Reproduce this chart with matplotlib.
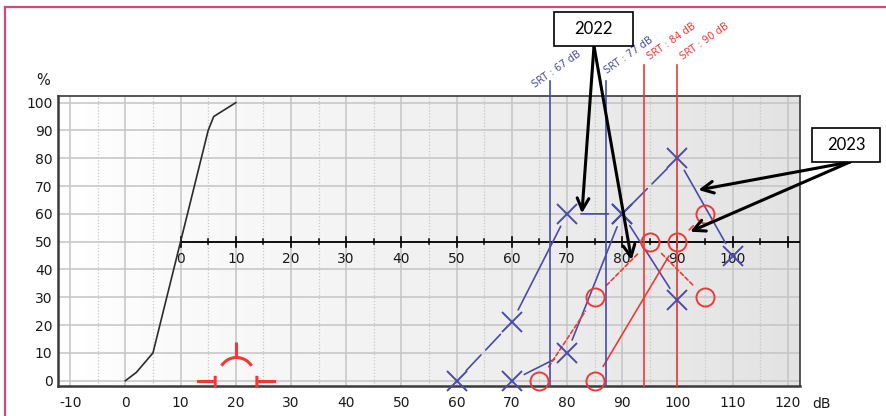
import numpy as np
import matplotlib
matplotlib.use("Agg")
import matplotlib.pyplot as plt
from matplotlib.path import Path
from matplotlib.patches import Rectangle
from matplotlib.lines import Line2D

plt.rcParams["axes.unicode_minus"] = False

# ---------------------------------------------------------------
# Datos (eje dB inferior; la escala superior va desplazada 10 dB)
# ---------------------------------------------------------------
norm_db = [0, 2, 5, 10, 15, 16, 20]
norm_pct = [0, 3, 10, 50, 90, 95, 100]

# 2022 - cruces azules
a22_db = [60, 70, 80, 90, 100]
a22_pct = [0, 21, 60, 60, 29]
a22_ls = ["dash", "solid", "solid", "solid"]

b22_db = [70, 80, 90, 100, 110]
b22_pct = [0, 10, 60, 80, 45]
b22_ls = ["solid", "solid", "dash", "solid"]

# 2023 - círculos rojos
a23_db = [75, 85, 95, 105]
a23_pct = [0, 30, 50, 30]
a23_ls = ["dot", "dot", "dot"]

b23_db = [85, 100, 105]
b23_pct = [0, 50, 60]
b23_ls = ["solid", "solid"]

srt_2022 = [67, 77]
srt_2023 = [84, 90]
scale_shift = 10

symbol_db = 20
symbol_pct = 0

x_ticks = list(range(-10, 121, 10))
y_ticks = list(range(0, 101, 10))
top_labels = list(range(0, 101, 10))

BLUE = "#4a4ca6"
RED = "#ec3b36"
STYLES = {"solid": "-", "dash": (0, (13, 4)), "dot": (0, (2.5, 1.5))}

W, H = 886, 416


def figfrac(px, py):
    return px / W, 1 - py / H


fig = plt.figure(figsize=(W / 100, H / 100), dpi=100)
ax = fig.add_axes([58 / W, 30 / H, 742 / W, 290.3 / H])
ax.set_xlim(-12.2, 122.2)
ax.set_ylim(-1.9, 102.5)

# fondo degradado blanco -> gris
grad = np.linspace(0, 1, 256).reshape(1, -1)
ax.imshow(grad, extent=(-12.2, 122.2, -1.9, 102.5), aspect="auto",
          cmap=matplotlib.colors.LinearSegmentedColormap.from_list("g", ["#ffffff", "#e3e3e3"]),
          zorder=0, interpolation="bicubic")

# rejilla
for x in x_ticks:
    ax.axvline(x, color="#c4c4c4", lw=1.1, zorder=1)
for x in range(-5, 120, 10):
    ax.axvline(x, color="#c8c8c8", lw=0.9, ls=(0, (1, 1.5)), zorder=1)
for y in y_ticks:
    ax.axhline(y, color="#c4c4c4", lw=1.1, zorder=1)

ax.set_xticks(x_ticks)
ax.set_yticks(y_ticks)
ax.tick_params(axis="both", length=0, labelsize=10, colors="#1a1a1a")
ax.tick_params(axis="x", pad=7)
ax.tick_params(axis="y", pad=4)
for s in ax.spines.values():
    s.set_color("#3a3a3a")
    s.set_linewidth(1.2)
ax.spines["left"].set_linewidth(1.8)
ax.spines["bottom"].set_linewidth(1.8)

ax.text(-0.02, 1.054, "%", transform=ax.transAxes, ha="center", va="center",
        fontsize=10.5, color="#1a1a1a")
ax.text(1.016, -0.037, "dB", transform=ax.transAxes, ha="left", va="top",
        fontsize=10, color="#1a1a1a")

# eje desplazado a 50 %
ax.plot([top_labels[0] + scale_shift, 122.2], [50, 50], color="black", lw=1.3, zorder=3)
for v in range(top_labels[0] + scale_shift, 121, 10):
    ax.plot([v, v], [48.2, 51.8], color="black", lw=1.2, zorder=3)
for v in range(top_labels[0] + scale_shift + 5, 121, 10):
    ax.plot([v, v], [49.2, 50.8], color="black", lw=1.1, zorder=3)
for lab in top_labels:
    ax.annotate(str(lab), xy=(lab + scale_shift, 50), xytext=(0, -7.5),
                textcoords="offset points", ha="center", va="top",
                fontsize=10, color="#1a1a1a", zorder=4)

# curva normal
ax.plot(norm_db, norm_pct, color="#2b2b2b", lw=1.2, zorder=4)


def draw_series(xs, ys, styles, color, marker, ms, gap):
    for i, st in enumerate(styles):
        ax.annotate("", xy=(xs[i + 1], ys[i + 1]), xytext=(xs[i], ys[i]),
                    arrowprops=dict(arrowstyle="-", color=color, lw=1.2,
                                    linestyle=STYLES[st], shrinkA=gap, shrinkB=gap),
                    zorder=5)
    ax.plot(xs, ys, ls="none", marker=marker, ms=ms, mew=1.4, mec=color,
            mfc="none", zorder=6, clip_on=False)


draw_series(a22_db, a22_pct, a22_ls, BLUE, "x", 14, 10)
draw_series(b22_db, b22_pct, b22_ls, BLUE, "x", 14, 10)
draw_series(a23_db, a23_pct, a23_ls, RED, "o", 13, 12)
draw_series(b23_db, b23_pct, b23_ls, RED, "o", 13, 12)

# líneas SRT
srt_label_dx = [-2.6, 0.5]
for srt, dx in zip(srt_2022, srt_label_dx):
    x = srt + scale_shift
    ax.plot([x, x], [-1.9, 107.8], color=BLUE, lw=1.2, zorder=5, clip_on=False)
    ax.text(x + dx, 104.8 + (srt - srt_2022[0]) * 0.48, f"SRT : {srt} dB",
            rotation=35, rotation_mode="anchor", ha="left", va="bottom",
            fontsize=7.2, color=BLUE)
for srt in srt_2023:
    x = srt + scale_shift
    ax.plot([x, x], [-1.9, 113.6], color=RED, lw=1.2, zorder=5, clip_on=False)
    ax.text(x + 1.3, 114.8, f"SRT : {srt} dB", rotation=35, rotation_mode="anchor",
            ha="left", va="bottom", fontsize=7.2, color=RED)

# símbolo rojo sobre 20 dB
arc = Path.arc(32, 148)
arc = Path(arc.vertices * 17.7 + [0, 6.3], arc.codes)
segs = [
    Path([(-39.6, 0), (-21.3, 0)]),
    Path([(-21.3, 5.7), (-21.3, -6.3)]),
    Path([(20.4, 5.7), (20.4, -6.3)]),
    Path([(20.4, 0), (39.7, 0)]),
    Path([(0, 24), (0, 39)]),
    arc,
]
glyph = Path.make_compound_path(*segs)
ax.plot([symbol_db], [symbol_pct], ls="none", marker=glyph, ms=2 * 39.7 / 1.389,
        mec=RED, mfc="none", mew=2.2, zorder=6, clip_on=False)

# recuadros de año con flechas
arrow_kw = dict(arrowstyle="->, head_length=0.6, head_width=0.3", color="black",
                lw=2.2, shrinkA=0, shrinkB=0, mutation_scale=14)
boxes = {
    "2022": ((554, 11.7, 79.3, 34), (594, 46), [(82.7, 60.2), (91.7, 43.4)]),
    "2023": ((812, 128, 68, 34), (850, 162), [(103.8, 68.6), (102.3, 53.6)]),
}
for label, (rect, start, tips) in boxes.items():
    rx, ry, rw, rh = rect
    x0, y0 = figfrac(rx, ry + rh)
    fig.add_artist(Rectangle((x0, y0), rw / W, rh / H, transform=fig.transFigure,
                             facecolor="white", edgecolor="black", lw=1.2, zorder=3))
    cx, cy = figfrac(rx + rw / 2, ry + rh / 2)
    fig.text(cx, cy, label, ha="center", va="center", fontsize=12,
             family="Lato", color="black", zorder=4)
    for tip in tips:
        ax.annotate("", xy=tip, xycoords="data", xytext=figfrac(*start),
                    textcoords="figure fraction", arrowprops=arrow_kw, zorder=8,
                    annotation_clip=False)

# marco rosa de la página
fig.add_artist(Line2D([5 / W, 5 / W], [0, 1 - 7 / H], transform=fig.transFigure,
                      color="#d4497a", lw=1.6))
fig.add_artist(Line2D([5 / W, 1], [1 - 7 / H, 1 - 7 / H], transform=fig.transFigure,
                      color="#d4497a", lw=1.6))

fig.savefig("out.png", dpi=100)
